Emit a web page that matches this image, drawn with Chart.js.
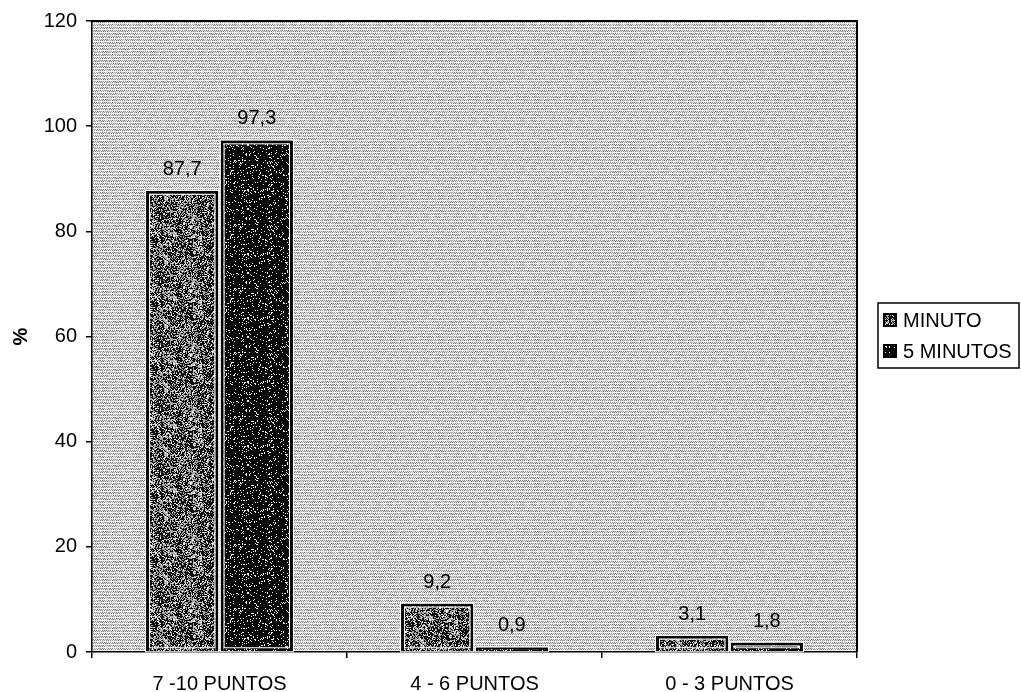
<!DOCTYPE html>
<html>
<head>
<meta charset="utf-8">
<script src="https://cdn.jsdelivr.net/npm/chart.js@4/dist/chart.umd.min.js"></script>
<style>
  html, body { margin: 0; padding: 0; background: #fff; }
</style>
</head>
<body>
<canvas id="chart-area" width="1021" height="692"></canvas>
<script>
const categories = ['7 -10 PUNTOS', '4 - 6 PUNTOS', '0 - 3 PUNTOS'];
const seriesNames = ['MINUTO', '5 MINUTOS'];
const minutoValues = [87.7, 9.2, 3.1];
const cincoMinutosValues = [97.3, 0.9, 1.8];
const yTicks = [0, 20, 40, 60, 80, 100, 120];

const FONT = 'Liberation Sans, Arial, sans-serif';

// speckled textures like the scanned print
function noise(x, y, seed) {
  const s = Math.sin(x * 12.9898 + y * 78.233 + seed * 37.719) * 43758.5453;
  return s - Math.floor(s);
}
function makeTexture(ctx, size, seed, shade) {
  const c = document.createElement('canvas');
  c.width = c.height = size;
  const g = c.getContext('2d');
  const img = g.createImageData(size, size);
  for (let y = 0; y < size; y++) {
    for (let x = 0; x < size; x++) {
      const v = shade(x, y, noise(x, y, seed));
      const i = (y * size + x) * 4;
      img.data[i] = img.data[i + 1] = img.data[i + 2] = v;
      img.data[i + 3] = 255;
    }
  }
  g.putImageData(img, 0, 0);
  return ctx.createPattern(c, 'repeat');
}

const ctx = document.getElementById('chart-area').getContext('2d');

const plotTexture = makeTexture(ctx, 48, 1, (x, y, n) => {
  if (y % 3 === 2) return 225 + n * 30;
  const base = (x + y) % 2 === 0 ? 140 : 228;
  return Math.max(0, Math.min(255, base + (n - 0.5) * 60));
});
const minutoTexture = makeTexture(ctx, 64, 2, (x, y, n) => {
  const m = noise(Math.floor(x / 6), Math.floor(y / 6), 7);
  if (n < 0.35 + m * 0.35) return 15;
  return n < 0.85 ? 165 : 240;
});
const cincoTexture = makeTexture(ctx, 64, 3, (x, y, n) => (n < 0.88 ? 8 : 235));

const formatValue = v => v.toFixed(1).replace('.', ',');

const plotBackground = {
  id: 'plotBackground',
  beforeDraw(chart) {
    const a = chart.chartArea;
    const c = chart.ctx;
    c.save();
    c.fillStyle = plotTexture;
    c.fillRect(a.left, a.top, a.right - a.left, a.bottom - a.top);
    c.restore();
  },
  afterDraw(chart) {
    const a = chart.chartArea;
    const c = chart.ctx;
    c.save();
    c.strokeStyle = '#000';
    c.lineWidth = 2;
    c.beginPath();
    c.moveTo(a.left, a.top);
    c.lineTo(a.right, a.top);
    c.lineTo(a.right, a.bottom);
    c.stroke();
    c.restore();
  }
};

const barExtras = {
  id: 'barExtras',
  afterDatasetsDraw(chart) {
    const c = chart.ctx;
    c.save();
    chart.data.datasets.forEach((ds, di) => {
      chart.getDatasetMeta(di).data.forEach((bar, i) => {
        const p = bar.getProps(['x', 'y', 'base', 'width'], true);
        const left = p.x - p.width / 2;
        const h = p.base - p.y;
        c.strokeStyle = '#fff';
        c.lineWidth = 1;
        if (h > 8) c.strokeRect(left + 3.5, p.y + 3.5, p.width - 7, h - 7);
        c.strokeRect(left - 0.5, p.y - 0.5, p.width + 1, h + 1);
        c.fillStyle = '#000';
        c.font = '20px ' + FONT;
        c.textAlign = 'center';
        c.textBaseline = 'alphabetic';
        c.fillText(formatValue(ds.data[i]), p.x, p.y - 16);
      });
    });
    c.restore();
  }
};

const boxLegend = {
  id: 'boxLegend',
  afterDraw(chart) {
    const c = chart.ctx;
    const textures = [minutoTexture, cincoTexture];
    c.save();
    c.strokeStyle = '#000';
    c.lineWidth = 1.5;
    c.strokeRect(878, 303, 141, 65);
    c.font = '20px ' + FONT;
    c.textAlign = 'left';
    c.textBaseline = 'middle';
    seriesNames.forEach((name, i) => {
      const y = 320 + i * 31;
      c.fillStyle = textures[i];
      c.fillRect(884, y - 6, 12, 12);
      c.strokeStyle = '#000';
      c.lineWidth = 2;
      c.strokeRect(884, y - 6, 12, 12);
      c.fillStyle = '#000';
      c.fillText(name, 903, y + 1);
    });
    c.restore();
  }
};

new Chart(ctx, {
  type: 'bar',
  data: {
    labels: categories,
    datasets: [
      {
        label: seriesNames[0],
        data: minutoValues,
        backgroundColor: minutoTexture,
        borderColor: '#000',
        borderWidth: 3,
        categoryPercentage: 0.585,
        barPercentage: 0.97
      },
      {
        label: seriesNames[1],
        data: cincoMinutosValues,
        backgroundColor: cincoTexture,
        borderColor: '#000',
        borderWidth: 3,
        categoryPercentage: 0.585,
        barPercentage: 0.97
      }
    ]
  },
  options: {
    responsive: false,
    animation: false,
    layout: { padding: { top: 21, right: 164, left: 0, bottom: 0 } },
    plugins: {
      legend: { display: false },
      tooltip: { enabled: false }
    },
    scales: {
      x: {
        afterFit(scale) { scale.height = 40; },
        grid: { drawOnChartArea: false, tickLength: 6, color: '#000', lineWidth: 1.5 },
        border: { color: '#000', width: 1.5 },
        ticks: { color: '#000', font: { family: FONT, size: 20 }, padding: 14, maxRotation: 0 }
      },
      y: {
        min: 0,
        max: 120,
        afterFit(scale) { scale.width = 92; },
        afterBuildTicks(scale) { scale.ticks = yTicks.map(v => ({ value: v })); },
        grid: { drawOnChartArea: false, tickLength: 6, color: '#000', lineWidth: 1.5 },
        border: { color: '#000', width: 1.5 },
        ticks: { color: '#000', font: { family: FONT, size: 20 }, padding: 9 },
        title: {
          display: true,
          text: '%',
          color: '#000',
          font: { family: FONT, size: 20, weight: 'bold' },
          padding: { top: 9, bottom: 0 }
        }
      }
    }
  },
  plugins: [plotBackground, barExtras, boxLegend]
});
</script>
</body>
</html>
